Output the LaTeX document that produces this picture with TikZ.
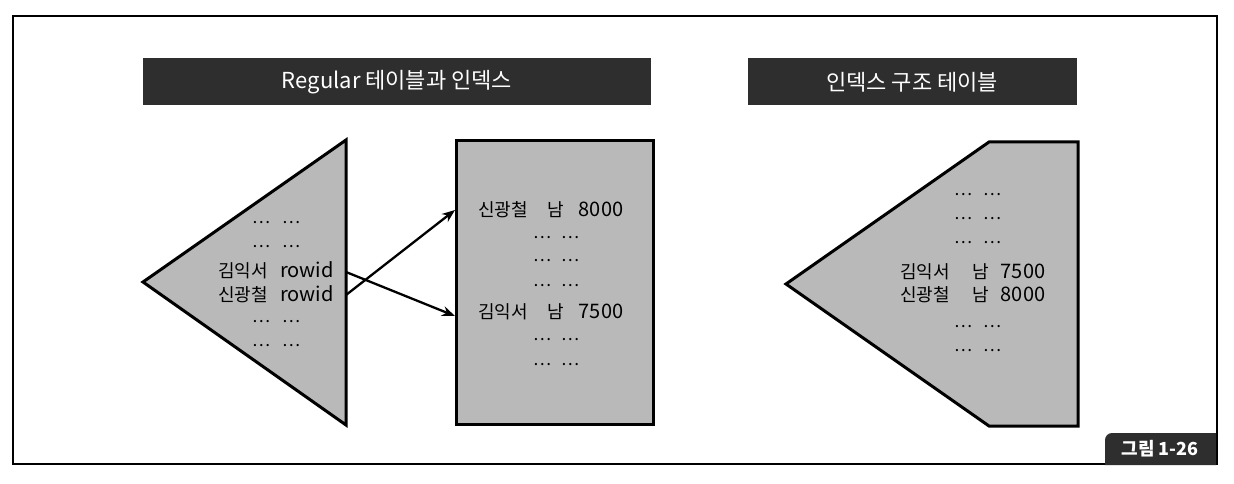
\documentclass[tikz,border=0pt]{standalone}
\usepackage{fontspec}
\setmainfont{Noto Sans CJK KR}
\usetikzlibrary{arrows.meta}
\definecolor{boxdark}{HTML}{2E2E2E}
\definecolor{shapegray}{HTML}{B9B9B9}
\begin{document}
\begin{tikzpicture}[x=1pt,y=-1pt,
  frame/.style={draw=black,line width=1.4pt},
  titlebox/.style={fill=boxdark,draw=none},
  titletext/.style={text=white,font=\fontsize{22}{26}\selectfont,inner sep=0pt},
  shapebody/.style={fill=shapegray,draw=black,line width=3pt,line join=miter},
  cell/.style={font=\fontsize{18}{21}\selectfont,inner sep=0pt,text height=13pt,text depth=0pt,anchor=center},
  latin/.style={cell,font=\fontsize{20}{23}\selectfont},
  dotcell/.style={font=\fontsize{17}{20}\selectfont,inner sep=0pt,anchor=base},
  link/.style={draw=black,line width=2.3pt,-{Stealth[length=13pt,width=10pt]}},
  labelbox/.style={fill=boxdark,draw=none},
  labeltext/.style={text=white,font=\bfseries\fontsize{18}{20}\selectfont,inner sep=0pt}
]
\useasboundingbox (0,0) rectangle (1234,484);
\fill[white] (0,0) rectangle (1234,484);
% frame
\draw[frame] (13,16) rectangle (1217,464);
% title boxes
\fill[titlebox] (143,58) rectangle (651,105);
\node[titletext] (t1) at (397,82) {Regular 테이블과 인덱스};
\fill[titlebox] (748,58) rectangle (1077,105);
\node[titletext] (t2) at (912,82) {인덱스 구조 테이블};
% left triangle (index)
\draw[shapebody] (346,140) -- (143,282) -- (346,425) -- cycle;
% table rectangle
\draw[shapebody] (456,141) rectangle (653,424);
% right index structure
\draw[shapebody] (989,142) -- (1078,142) -- (1078,426) -- (989,426) -- (786,284) -- cycle;
% left triangle text
\foreach \y in {220,244,319,343}{
  \node[dotcell] at (261,\y+3) {…};
  \node[dotcell] at (291,\y+3) {…};
}
\node[cell] (lk1) at (243,271) {김익서};
\node[latin] (lr1) at (307,271) {rowid};
\node[cell] (lk2) at (243,295) {신광철};
\node[latin] (lr2) at (307,295) {rowid};
% rectangle text
\node[cell] (tk1) at (503,210) {신광철};
\node[cell] (ts1) at (556,210) {남};
\node[latin] (tn1) at (601,210) {8000};
\foreach \y in {235,258,283,337,362}{
  \node[dotcell] at (542,\y+3) {…};
  \node[dotcell] at (570,\y+3) {…};
}
\node[cell] (tk2) at (503,312) {김익서};
\node[cell] (ts2) at (556,312) {남};
\node[latin] (tn2) at (601,312) {7500};
% right text
\foreach \y in {192,216,240,324,348}{
  \node[dotcell] at (963,\y+3) {…};
  \node[dotcell] at (992,\y+3) {…};
}
\node[cell] (rk1) at (925,272) {김익서};
\node[cell] (rs1) at (981,272) {남};
\node[latin] (rn1) at (1023,272) {7500};
\node[cell] (rk2) at (925,295) {신광철};
\node[cell] (rs2) at (981,295) {남};
\node[latin] (rn2) at (1023,295) {8000};
% connectors
\coordinate (from1) at (346,272);
\coordinate (from2) at (346,295);
\coordinate (to1) at (455,210);
\coordinate (to2) at (455,316);
\draw[link] (from2) -- (to1);
\draw[link] (from1) -- (to2);
% figure label
\fill[labelbox] (1105,465) -- (1105,440) arc[start angle=180,end angle=270,radius=7] -- (1216,433) -- (1216,465) -- cycle;
\node[labeltext] (fig) at (1160,449) {그림 1-26};
\end{tikzpicture}
\end{document}
